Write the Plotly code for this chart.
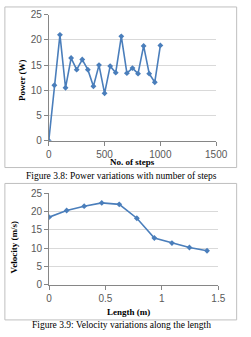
import plotly.graph_objects as go

# Figure 3.8 data
steps = [0, 50, 100, 150, 200, 250, 300, 350, 400, 450, 500, 550, 600, 650, 700, 750, 800, 850, 900, 950, 1000]
power = [0, 11, 21, 10.5, 16.4, 14.1, 16.1, 14.1, 10.8, 15, 9.4, 14.8, 13.5, 20.7, 13.4, 14.4, 13.3, 18.8, 13.3, 11.6, 18.9]

# Figure 3.9 data
length = [0, 0.156, 0.311, 0.467, 0.622, 0.778, 0.933, 1.089, 1.244, 1.4]
velocity = [18.5, 20.3, 21.5, 22.4, 22.0, 18.2, 12.8, 11.4, 10.2, 9.3]

x1_ticks = [0, 500, 1000, 1500]
x2_ticks = [0, 0.5, 1, 1.5]
y_ticks = [0, 5, 10, 15, 20, 25]

W, H = 251, 337
def px(x): return x / W
def py(y): return 1 - y / H

LINE = "#4a7ebb"
tickfont = dict(family="Liberation Sans, Arial, sans-serif", size=10, color="#595959")
titlefont = dict(family="Liberation Serif, Times New Roman, serif", size=9, color="#000000")
capfont = dict(family="Liberation Serif, Times New Roman, serif", size=9.5, color="#000000")

fig = go.Figure()
fig.add_trace(go.Scatter(x=steps, y=power, mode="lines+markers", xaxis="x", yaxis="y",
                         line=dict(color=LINE, width=1.6),
                         marker=dict(symbol="diamond", size=4.5, color=LINE), showlegend=False))
fig.add_trace(go.Scatter(x=length, y=velocity, mode="lines+markers", xaxis="x2", yaxis="y2",
                         line=dict(color=LINE, width=1.6),
                         marker=dict(symbol="diamond", size=4.5, color=LINE), showlegend=False))

axis_common = dict(showline=True, linecolor="#868686", linewidth=1, ticks="outside",
                   ticklen=4, tickcolor="#868686", tickfont=tickfont, zeroline=False)

fig.update_layout(
    width=W, height=H, margin=dict(l=0, r=0, t=0, b=0),
    paper_bgcolor="white", plot_bgcolor="white",
    xaxis=dict(domain=[px(48.7), px(226.7)], range=[0, 1500], tickvals=x1_ticks,
               showgrid=False, anchor="y", **axis_common),
    yaxis=dict(domain=[py(139.7), py(9)], range=[0, 25], tickvals=y_ticks,
               showgrid=True, gridcolor="#d9d9d9", anchor="x", **axis_common),
    xaxis2=dict(domain=[px(49), px(229)], range=[0, 1.5], tickvals=x2_ticks,
                showgrid=False, anchor="y2", **axis_common),
    yaxis2=dict(domain=[py(289), py(194.3)], range=[0, 25], tickvals=y_ticks,
                showgrid=True, gridcolor="#d9d9d9", anchor="x2", **axis_common),
)

# chart borders
fig.add_shape(type="rect", xref="paper", yref="paper", x0=px(2), x1=px(248.5), y0=py(167.5), y1=py(1),
              line=dict(color="#bfbfbf", width=1))
fig.add_shape(type="rect", xref="paper", yref="paper", x0=px(2), x1=px(248.5), y0=py(325.5), y1=py(184),
              line=dict(color="#bfbfbf", width=1))

# axis titles
fig.add_annotation(text="<b>No. of steps</b>", x=px(138), y=py(162), xref="paper", yref="paper",
                   showarrow=False, font=titlefont, xanchor="center", yanchor="middle")
fig.add_annotation(text="<b>Power (W)</b>", x=px(21), y=py(77), xref="paper", yref="paper",
                   showarrow=False, font=titlefont, textangle=-90, xanchor="center", yanchor="middle")
fig.add_annotation(text="<b>Length (m)</b>", x=px(133), y=py(317.5), xref="paper", yref="paper",
                   showarrow=False, font=titlefont, xanchor="center", yanchor="middle")
fig.add_annotation(text="<b>Velocity (m/s)</b>", x=px(12), y=py(250), xref="paper", yref="paper",
                   showarrow=False, font=titlefont, textangle=-90, xanchor="center", yanchor="middle")

# captions
fig.add_annotation(text="Figure 3.8: Power variations with number of steps", x=px(126), y=py(176),
                   xref="paper", yref="paper", showarrow=False, font=capfont,
                   xanchor="center", yanchor="middle")
fig.add_annotation(text="Figure 3.9: Velocity variations along the length", x=px(126), y=py(331),
                   xref="paper", yref="paper", showarrow=False, font=capfont,
                   xanchor="center", yanchor="middle")

fig.write_html("out.html")
